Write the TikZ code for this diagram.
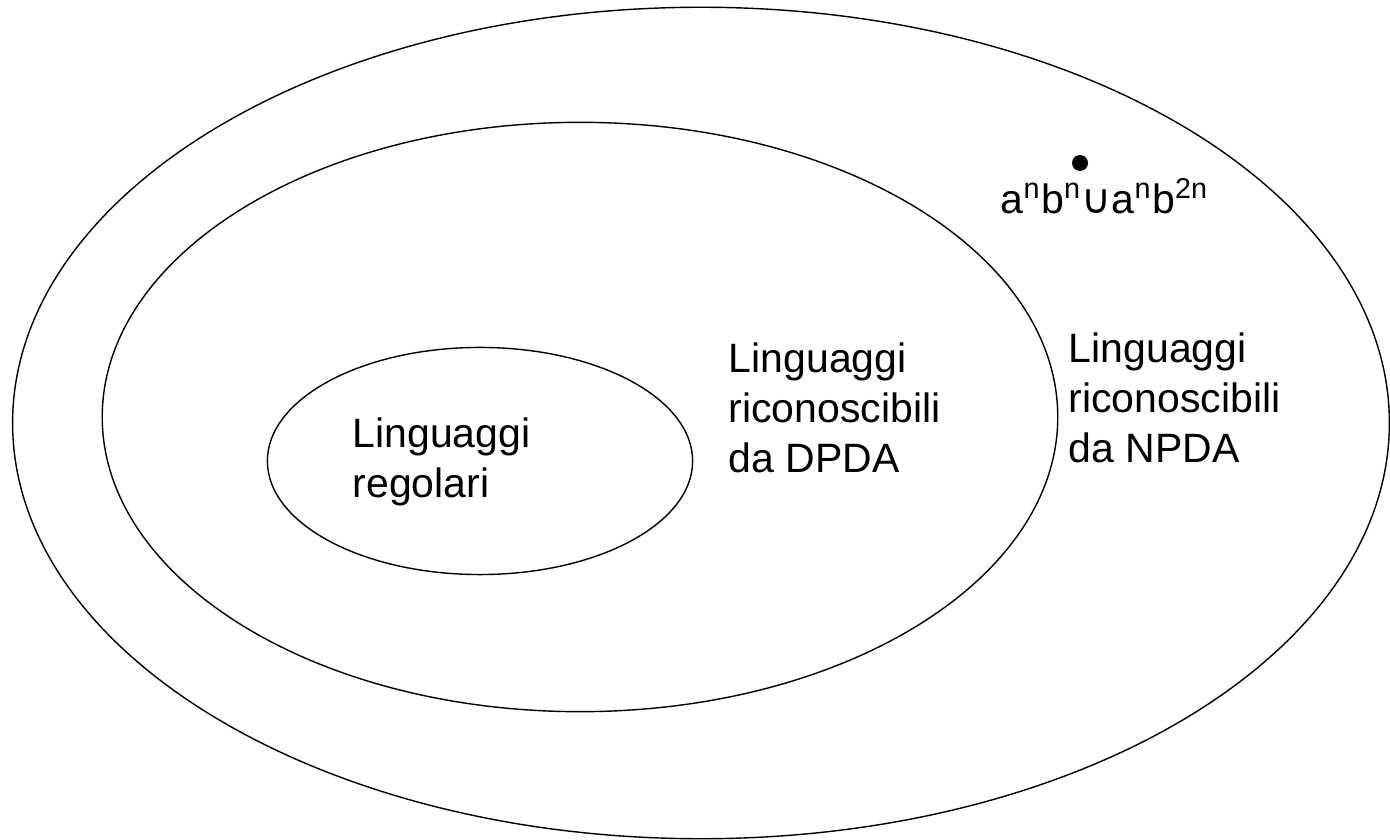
\documentclass[tikz,border=0pt]{standalone}
\usepackage{fontspec}
\setmainfont{Liberation Sans}
\newfontfamily\symfont{DejaVu Sans}
\usetikzlibrary{shapes.geometric}
\begin{document}
\begin{tikzpicture}[x=0.01cm, y=-0.01cm,
        set/.style = {draw, ellipse, line width=0.4pt, inner sep=0pt},
        lbl/.style = {anchor=north west, inner sep=0pt, align=left,
            font=\fontsize{11.66}{14.23}\selectfont}]
        \useasboundingbox (0,0) rectangle (1390,840);
        % insiemi di linguaggi
        \node[set, minimum width=13.76cm, minimum height=8.31cm] (npda) at (701,423) {};
        \node[set, minimum width=9.55cm, minimum height=5.89cm] (dpda) at (580,417) {};
        \node[set, minimum width=4.25cm, minimum height=2.27cm] (reg) at (480,461) {};
        % etichette
        \node[lbl] (regtxt) at (352,417) {Linguaggi\\regolari};
        \node[lbl] (dpdatxt) at (728,342) {Linguaggi\\riconoscibili\\da DPDA};
        \node[lbl] (npdatxt) at (1068,332) {Linguaggi\\riconoscibili\\da NPDA};
        % linguaggio di esempio
        \node[circle, fill, inner sep=0pt, minimum size=0.16cm] (lang) at (1080,163) {};
        \node[anchor=base west, inner sep=0pt, font=\fontsize{11.66}{14.23}\selectfont]
            (langtxt) at (1000,214)
            {a\textsuperscript{n}b\textsuperscript{n}{\symfont ∪}a\textsuperscript{n}b\textsuperscript{2n}};
\end{tikzpicture}
\end{document}
